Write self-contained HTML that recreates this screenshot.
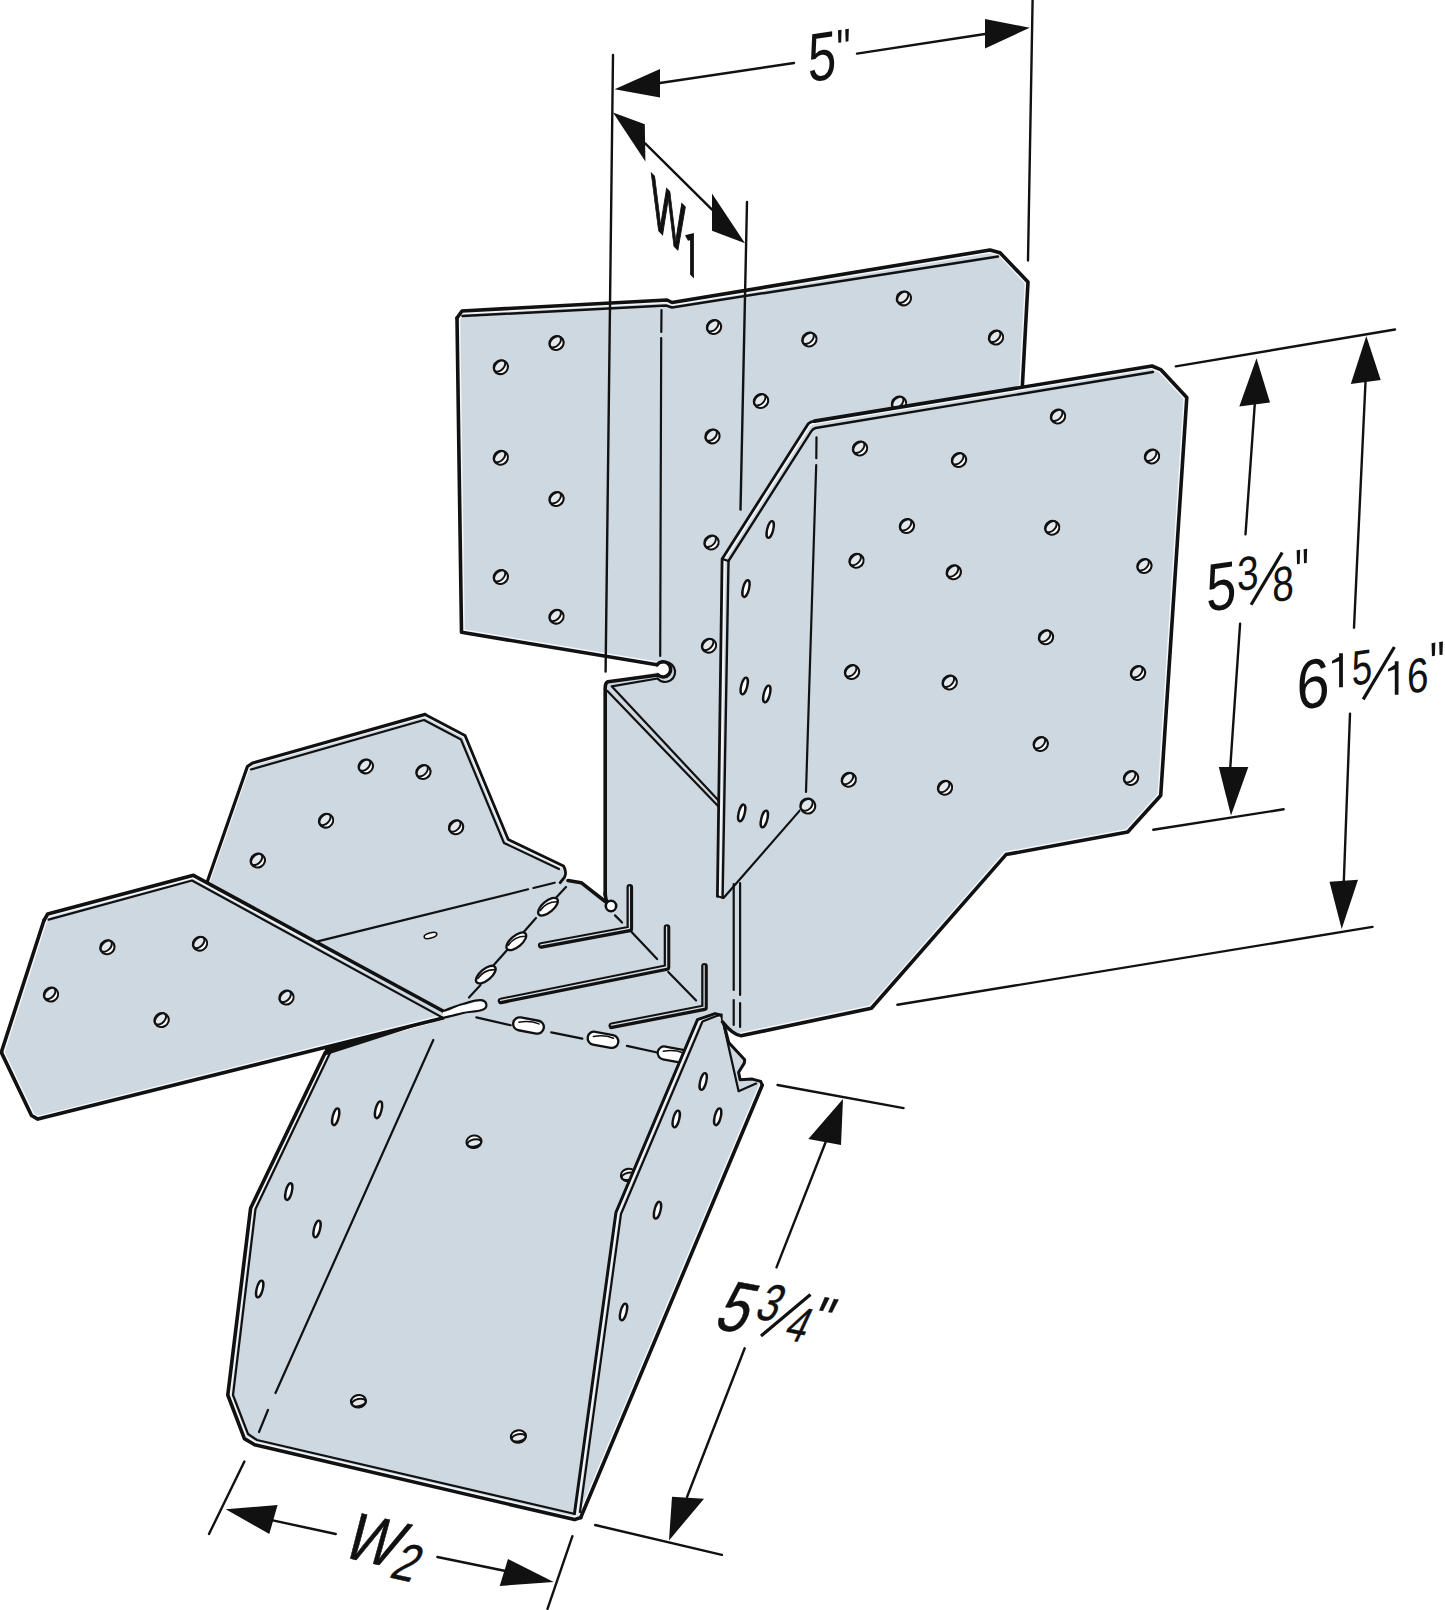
<!DOCTYPE html><html><head><meta charset="utf-8"><style>html,body{margin:0;padding:0;background:#fff;width:1445px;height:1610px;overflow:hidden}svg{display:block}</style></head><body>
<svg width="1445" height="1610" viewBox="0 0 1445 1610" stroke-linejoin="round" stroke-linecap="round">
<clipPath id="c1"><path d="M457,316 L462,311 L667,300 L672,302 L990,250 L1000,253 L1028,282 L1021,400 L1021,760 L740,1034 L605,1000 L605,686 L610,681 L656,672.6 L665,670 L656,666 L461.5,632.3 Z"/></clipPath>
<path d="M457,316 L462,311 L667,300 L672,302 L990,250 L1000,253 L1028,282 L1021,400 L1021,760 L740,1034 L605,1000 L605,686 L610,681 L656,672.6 L665,670 L656,666 L461.5,632.3 Z" fill="#ced8e1" stroke="none"/>
<path d="M457,318 L462,311 L667,300 L672,302.5 L990,250 L1000,252.7 L1028,282 L1021.6,400 M457,318 L461.5,632.3 L657,664.8" fill="none" stroke="#f4f7fa" stroke-width="6.6" clip-path="url(#c1)"/>
<path d="M457,318 L462,311 L667,300 L672,302.5 L990,250 L1000,252.7 L1028,282 L1021.6,400" fill="none" stroke="#111" stroke-width="3.6" />
<path d="M462.5,316 L666,305.5 L672,307.5 L998,256.5" fill="none" stroke="#111" stroke-width="2.5" />
<path d="M457,318 L461.5,632.3 L657,664.8" fill="none" stroke="#111" stroke-width="3.6" />
<path d="M657,664.8 A7.6,7.6 0 1 1 658,675 Z" fill="#fff"/>
<path d="M657,664.8 A7.6,7.6 0 1 1 658,675" fill="none" stroke="#111" stroke-width="3.6" />
<path d="M658,675 L608,681.8 Q604.8,683 605.2,690 L605.2,895" fill="none" stroke="#111" stroke-width="3.6" />
<path d="M662,662.5 A10,10 0 1 1 657.5,678.5" fill="none" stroke="#111" stroke-width="2.2" />
<path d="M657.5,678.5 L611.7,686.3 L719,801" fill="none" stroke="#111" stroke-width="2.2" />
<path d="M607.2,690.8 L719,807" fill="none" stroke="#111" stroke-width="2.2" />
<path d="M661.5,310 L661.3,332 M661.2,338 L660.2,656" fill="none" stroke="#111" stroke-width="2.2" />
<g transform="translate(500.8,367.2) rotate(-30)"><ellipse rx="8.6" ry="8.1" fill="#e4eaf0"/><ellipse rx="7.3" ry="6.8" fill="#fff" stroke="#111" stroke-width="2.1"/></g><g transform="translate(500.8,367.2) rotate(-45)"><ellipse cx="0" cy="-1.6" rx="6.7" ry="4.199999999999999" fill="#e3e8ed" stroke="#111" stroke-width="2.0"/></g>
<g transform="translate(556.5,343) rotate(-30)"><ellipse rx="8.6" ry="8.1" fill="#e4eaf0"/><ellipse rx="7.3" ry="6.8" fill="#fff" stroke="#111" stroke-width="2.1"/></g><g transform="translate(556.5,343) rotate(-45)"><ellipse cx="0" cy="-1.6" rx="6.7" ry="4.199999999999999" fill="#e3e8ed" stroke="#111" stroke-width="2.0"/></g>
<g transform="translate(500.8,457.8) rotate(-30)"><ellipse rx="8.6" ry="8.1" fill="#e4eaf0"/><ellipse rx="7.3" ry="6.8" fill="#fff" stroke="#111" stroke-width="2.1"/></g><g transform="translate(500.8,457.8) rotate(-45)"><ellipse cx="0" cy="-1.6" rx="6.7" ry="4.199999999999999" fill="#e3e8ed" stroke="#111" stroke-width="2.0"/></g>
<g transform="translate(556.5,499) rotate(-30)"><ellipse rx="8.6" ry="8.1" fill="#e4eaf0"/><ellipse rx="7.3" ry="6.8" fill="#fff" stroke="#111" stroke-width="2.1"/></g><g transform="translate(556.5,499) rotate(-45)"><ellipse cx="0" cy="-1.6" rx="6.7" ry="4.199999999999999" fill="#e3e8ed" stroke="#111" stroke-width="2.0"/></g>
<g transform="translate(500.8,577) rotate(-30)"><ellipse rx="8.6" ry="8.1" fill="#e4eaf0"/><ellipse rx="7.3" ry="6.8" fill="#fff" stroke="#111" stroke-width="2.1"/></g><g transform="translate(500.8,577) rotate(-45)"><ellipse cx="0" cy="-1.6" rx="6.7" ry="4.199999999999999" fill="#e3e8ed" stroke="#111" stroke-width="2.0"/></g>
<g transform="translate(556.5,616.7) rotate(-30)"><ellipse rx="8.6" ry="8.1" fill="#e4eaf0"/><ellipse rx="7.3" ry="6.8" fill="#fff" stroke="#111" stroke-width="2.1"/></g><g transform="translate(556.5,616.7) rotate(-45)"><ellipse cx="0" cy="-1.6" rx="6.7" ry="4.199999999999999" fill="#e3e8ed" stroke="#111" stroke-width="2.0"/></g>
<g transform="translate(714,327) rotate(-30)"><ellipse rx="8.6" ry="8.1" fill="#e4eaf0"/><ellipse rx="7.3" ry="6.8" fill="#fff" stroke="#111" stroke-width="2.1"/></g><g transform="translate(714,327) rotate(-45)"><ellipse cx="0" cy="-1.6" rx="6.7" ry="4.199999999999999" fill="#e3e8ed" stroke="#111" stroke-width="2.0"/></g>
<g transform="translate(809.4,339.5) rotate(-30)"><ellipse rx="8.6" ry="8.1" fill="#e4eaf0"/><ellipse rx="7.3" ry="6.8" fill="#fff" stroke="#111" stroke-width="2.1"/></g><g transform="translate(809.4,339.5) rotate(-45)"><ellipse cx="0" cy="-1.6" rx="6.7" ry="4.199999999999999" fill="#e3e8ed" stroke="#111" stroke-width="2.0"/></g>
<g transform="translate(903.9,298.4) rotate(-30)"><ellipse rx="8.6" ry="8.1" fill="#e4eaf0"/><ellipse rx="7.3" ry="6.8" fill="#fff" stroke="#111" stroke-width="2.1"/></g><g transform="translate(903.9,298.4) rotate(-45)"><ellipse cx="0" cy="-1.6" rx="6.7" ry="4.199999999999999" fill="#e3e8ed" stroke="#111" stroke-width="2.0"/></g>
<g transform="translate(996,337.6) rotate(-30)"><ellipse rx="8.6" ry="8.1" fill="#e4eaf0"/><ellipse rx="7.3" ry="6.8" fill="#fff" stroke="#111" stroke-width="2.1"/></g><g transform="translate(996,337.6) rotate(-45)"><ellipse cx="0" cy="-1.6" rx="6.7" ry="4.199999999999999" fill="#e3e8ed" stroke="#111" stroke-width="2.0"/></g>
<g transform="translate(761,401) rotate(-30)"><ellipse rx="8.6" ry="8.1" fill="#e4eaf0"/><ellipse rx="7.3" ry="6.8" fill="#fff" stroke="#111" stroke-width="2.1"/></g><g transform="translate(761,401) rotate(-45)"><ellipse cx="0" cy="-1.6" rx="6.7" ry="4.199999999999999" fill="#e3e8ed" stroke="#111" stroke-width="2.0"/></g>
<g transform="translate(899,403.5) rotate(-30)"><ellipse rx="8.6" ry="8.1" fill="#e4eaf0"/><ellipse rx="7.3" ry="6.8" fill="#fff" stroke="#111" stroke-width="2.1"/></g><g transform="translate(899,403.5) rotate(-45)"><ellipse cx="0" cy="-1.6" rx="6.7" ry="4.199999999999999" fill="#e3e8ed" stroke="#111" stroke-width="2.0"/></g>
<g transform="translate(712.5,436.4) rotate(-30)"><ellipse rx="8.6" ry="8.1" fill="#e4eaf0"/><ellipse rx="7.3" ry="6.8" fill="#fff" stroke="#111" stroke-width="2.1"/></g><g transform="translate(712.5,436.4) rotate(-45)"><ellipse cx="0" cy="-1.6" rx="6.7" ry="4.199999999999999" fill="#e3e8ed" stroke="#111" stroke-width="2.0"/></g>
<g transform="translate(711.5,542.5) rotate(-30)"><ellipse rx="8.6" ry="8.1" fill="#e4eaf0"/><ellipse rx="7.3" ry="6.8" fill="#fff" stroke="#111" stroke-width="2.1"/></g><g transform="translate(711.5,542.5) rotate(-45)"><ellipse cx="0" cy="-1.6" rx="6.7" ry="4.199999999999999" fill="#e3e8ed" stroke="#111" stroke-width="2.0"/></g>
<g transform="translate(709,645.7) rotate(-30)"><ellipse rx="8.6" ry="8.1" fill="#e4eaf0"/><ellipse rx="7.3" ry="6.8" fill="#fff" stroke="#111" stroke-width="2.1"/></g><g transform="translate(709,645.7) rotate(-45)"><ellipse cx="0" cy="-1.6" rx="6.7" ry="4.199999999999999" fill="#e3e8ed" stroke="#111" stroke-width="2.0"/></g>
<clipPath id="c2"><path d="M207.6,880.7 L247.4,766.5 L252.6,763 L425.1,714.4 L465,735.4 L508.2,839.5 L563.5,866 L564.6,877.2 L568,880.5 L581.2,882.7 L605.6,904.8 L612,906 L740,1000 L735,1022 L721,1015 L700,1062 L474,1030 L443,1030 L193,876 Z"/></clipPath>
<path d="M207.6,880.7 L247.4,766.5 L252.6,763 L425.1,714.4 L465,735.4 L508.2,839.5 L563.5,866 L564.6,877.2 L568,880.5 L581.2,882.7 L605.6,904.8 L612,906 L740,1000 L735,1022 L721,1015 L700,1062 L474,1030 L443,1030 L193,876 Z" fill="#ced8e1" stroke="none"/>
<path d="M207,882.5 L247.4,766.5 L252.6,763 L425.1,714.4 L465,735.4 L508.2,839.5 L563.5,866" fill="none" stroke="#f4f7fa" stroke-width="5.4" clip-path="url(#c2)"/>
<path d="M207,882.5 L247.4,766.5 L252.6,763 L425.1,714.4" fill="none" stroke="#111" stroke-width="3.2" />
<path d="M425.1,714.4 L465,735.4 L508.2,839.5 L563.5,866 Q567,872 564.6,877.2 L560.2,882.7" fill="none" stroke="#111" stroke-width="2.8" />
<path d="M251,769.5 L424,720 L461,739.5 L504,843 L559,869" fill="none" stroke="#111" stroke-width="2.2" />
<path d="M568,880.5 L581.2,882.7 L606.5,902.5" fill="none" stroke="#111" stroke-width="3.6" />
<circle cx="611" cy="906" r="5.2" fill="#fff" stroke="#111" stroke-width="2.6"/>
<path d="M605.2,893 Q605.5,899 607,901.5" fill="none" stroke="#111" stroke-width="3.6" />
<path d="M317.7,941.4 L528.1,889.3 M533.5,888 L554.7,882.7" fill="none" stroke="#111" stroke-width="2.2" />
<path d="M566,887 L552,902 M536,918 L522,934 M508,949 L492,967 M480.5,985 L469,997.4" fill="none" stroke="#111" stroke-width="2.2" />
<ellipse cx="548" cy="906.7" rx="12" ry="5.6" transform="rotate(-40 548 906.7)" fill="#fff" stroke="#111" stroke-width="2.3"/>
<path d="M540,910.7 Q546,901.7 557,901.7" fill="none" stroke="#111" stroke-width="1.6"/>
<ellipse cx="516.3" cy="941.3" rx="12" ry="5.6" transform="rotate(-40 516.3 941.3)" fill="#fff" stroke="#111" stroke-width="2.3"/>
<path d="M508.29999999999995,945.3 Q514.3,936.3 525.3,936.3" fill="none" stroke="#111" stroke-width="1.6"/>
<ellipse cx="485.8" cy="974.6" rx="12" ry="5.6" transform="rotate(-40 485.8 974.6)" fill="#fff" stroke="#111" stroke-width="2.3"/>
<path d="M477.8,978.6 Q483.8,969.6 494.8,969.6" fill="none" stroke="#111" stroke-width="1.6"/>
<ellipse cx="430.5" cy="935.5" rx="6.5" ry="2.6" transform="rotate(-15 430.5 935.5)" fill="#fff" stroke="#111" stroke-width="1.6"/>
<path d="M615,915.4 L622.1,922.5 M631.6,932 L657.1,959.1 M668.3,971.9 L696.1,1000.5" fill="none" stroke="#111" stroke-width="2.2" />
<path d="M629.8,887.4 L629.8,928.9 L541.2,945.5" fill="none" stroke="#111" stroke-width="6.6"/>
<path d="M629.8,887.4 L629.8,928.9 L541.2,945.5" fill="none" stroke="#d6dde4" stroke-width="1.3" transform="translate(-0.4,-0.6)"/>
<path d="M667,927.5 L667,967.6 L501,1000.9" fill="none" stroke="#111" stroke-width="6.6"/>
<path d="M667,927.5 L667,967.6 L501,1000.9" fill="none" stroke="#d6dde4" stroke-width="1.3" transform="translate(-0.4,-0.6)"/>
<path d="M704.5,966.3 L704.5,1007.8 L611.8,1025.8" fill="none" stroke="#111" stroke-width="6.6"/>
<path d="M704.5,966.3 L704.5,1007.8 L611.8,1025.8" fill="none" stroke="#d6dde4" stroke-width="1.3" transform="translate(-0.4,-0.6)"/>
<g transform="translate(365.8,766.4) rotate(-30)"><ellipse rx="8.6" ry="8.1" fill="#e4eaf0"/><ellipse rx="7.3" ry="6.8" fill="#fff" stroke="#111" stroke-width="2.1"/></g><g transform="translate(365.8,766.4) rotate(-45)"><ellipse cx="0" cy="-1.6" rx="6.7" ry="4.199999999999999" fill="#e3e8ed" stroke="#111" stroke-width="2.0"/></g>
<g transform="translate(423.4,772) rotate(-30)"><ellipse rx="8.6" ry="8.1" fill="#e4eaf0"/><ellipse rx="7.3" ry="6.8" fill="#fff" stroke="#111" stroke-width="2.1"/></g><g transform="translate(423.4,772) rotate(-45)"><ellipse cx="0" cy="-1.6" rx="6.7" ry="4.199999999999999" fill="#e3e8ed" stroke="#111" stroke-width="2.0"/></g>
<g transform="translate(326.1,820.7) rotate(-30)"><ellipse rx="8.6" ry="8.1" fill="#e4eaf0"/><ellipse rx="7.3" ry="6.8" fill="#fff" stroke="#111" stroke-width="2.1"/></g><g transform="translate(326.1,820.7) rotate(-45)"><ellipse cx="0" cy="-1.6" rx="6.7" ry="4.199999999999999" fill="#e3e8ed" stroke="#111" stroke-width="2.0"/></g>
<g transform="translate(456.1,827.3) rotate(-30)"><ellipse rx="8.6" ry="8.1" fill="#e4eaf0"/><ellipse rx="7.3" ry="6.8" fill="#fff" stroke="#111" stroke-width="2.1"/></g><g transform="translate(456.1,827.3) rotate(-45)"><ellipse cx="0" cy="-1.6" rx="6.7" ry="4.199999999999999" fill="#e3e8ed" stroke="#111" stroke-width="2.0"/></g>
<g transform="translate(257.8,860.6) rotate(-30)"><ellipse rx="8.6" ry="8.1" fill="#e4eaf0"/><ellipse rx="7.3" ry="6.8" fill="#fff" stroke="#111" stroke-width="2.1"/></g><g transform="translate(257.8,860.6) rotate(-45)"><ellipse cx="0" cy="-1.6" rx="6.7" ry="4.199999999999999" fill="#e3e8ed" stroke="#111" stroke-width="2.0"/></g>
<clipPath id="c3"><path d="M47.7,914 L193.4,875.3 L443,1016 L440,1019.5 L37.8,1119.1 L31.5,1115.5 L1.8,1053.4 L1.8,1050.7 L44,920.3 Z"/></clipPath>
<path d="M47.7,914 L193.4,875.3 L443,1016 L440,1019.5 L37.8,1119.1 L31.5,1115.5 L1.8,1053.4 L1.8,1050.7 L44,920.3 Z" fill="#ced8e1" stroke="none"/>
<path d="M44,920.3 L47.7,914 L193.4,875.3 L443,1011 M443,1018 L37.8,1119.1 L31.5,1115.5 L1.8,1053.4 L1.8,1050.7 L44,920.3" fill="none" stroke="#f4f7fa" stroke-width="6.6" clip-path="url(#c3)"/>
<path d="M44,920.3 L47.7,914 L193.4,875.3 L443,1011" fill="none" stroke="#111" stroke-width="3.6" />
<path d="M48.6,919.6 L192,880.5 L442.3,1017.4" fill="none" stroke="#111" stroke-width="2.2" />
<path d="M443,1018 L37.8,1119.1 L31.5,1115.5 L1.8,1053.4 L1.8,1050.7 L44,920.3" fill="none" stroke="#111" stroke-width="3.6" />
<g transform="translate(107.4,947.3) rotate(-30)"><ellipse rx="8.6" ry="8.1" fill="#e4eaf0"/><ellipse rx="7.3" ry="6.8" fill="#fff" stroke="#111" stroke-width="2.1"/></g><g transform="translate(107.4,947.3) rotate(-45)"><ellipse cx="0" cy="-1.6" rx="6.7" ry="4.199999999999999" fill="#e3e8ed" stroke="#111" stroke-width="2.0"/></g>
<g transform="translate(200,943.7) rotate(-30)"><ellipse rx="8.6" ry="8.1" fill="#e4eaf0"/><ellipse rx="7.3" ry="6.8" fill="#fff" stroke="#111" stroke-width="2.1"/></g><g transform="translate(200,943.7) rotate(-45)"><ellipse cx="0" cy="-1.6" rx="6.7" ry="4.199999999999999" fill="#e3e8ed" stroke="#111" stroke-width="2.0"/></g>
<g transform="translate(51,994.6) rotate(-30)"><ellipse rx="8.6" ry="8.1" fill="#e4eaf0"/><ellipse rx="7.3" ry="6.8" fill="#fff" stroke="#111" stroke-width="2.1"/></g><g transform="translate(51,994.6) rotate(-45)"><ellipse cx="0" cy="-1.6" rx="6.7" ry="4.199999999999999" fill="#e3e8ed" stroke="#111" stroke-width="2.0"/></g>
<g transform="translate(161.6,1020.1) rotate(-30)"><ellipse rx="8.6" ry="8.1" fill="#e4eaf0"/><ellipse rx="7.3" ry="6.8" fill="#fff" stroke="#111" stroke-width="2.1"/></g><g transform="translate(161.6,1020.1) rotate(-45)"><ellipse cx="0" cy="-1.6" rx="6.7" ry="4.199999999999999" fill="#e3e8ed" stroke="#111" stroke-width="2.0"/></g>
<g transform="translate(286.5,997.6) rotate(-30)"><ellipse rx="8.6" ry="8.1" fill="#e4eaf0"/><ellipse rx="7.3" ry="6.8" fill="#fff" stroke="#111" stroke-width="2.1"/></g><g transform="translate(286.5,997.6) rotate(-45)"><ellipse cx="0" cy="-1.6" rx="6.7" ry="4.199999999999999" fill="#e3e8ed" stroke="#111" stroke-width="2.0"/></g>
<clipPath id="c4"><path d="M325.3,1052.5 L443,1020 L474,1017.5 L682,1053.5 L697.5,1019.7 L721.5,1015.1 L738.6,1091.2 L762,1085 L580.7,1517.5 L574.5,1519.6 L254.7,1444.8 L244.4,1438.6 L227.8,1395 L250.6,1208.2 Z"/></clipPath>
<path d="M325.3,1052.5 L443,1020 L474,1017.5 L682,1053.5 L697.5,1019.7 L721.5,1015.1 L738.6,1091.2 L762,1085 L580.7,1517.5 L574.5,1519.6 L254.7,1444.8 L244.4,1438.6 L227.8,1395 L250.6,1208.2 Z" fill="#ced8e1" stroke="none"/>
<path d="M325.3,1052.5 L250.6,1208.2 L227.8,1395 L244.4,1438.6 L254.7,1444.8 L574.5,1519.6 L580.7,1517.5" fill="none" stroke="#f4f7fa" stroke-width="6.6" clip-path="url(#c4)"/>
<path d="M325.3,1052.5 L250.6,1208.2 L227.8,1395 L244.4,1438.6 L254.7,1444.8 L574.5,1519.6 L580.7,1517.5" fill="none" stroke="#111" stroke-width="3.6" />
<path d="M330,1053 L255.5,1209 L233,1395 L248,1434 L257,1440 L575,1514" fill="none" stroke="#111" stroke-width="2.2" />
<path d="M325,1048 L443,1017.6 L325,1055.5 Z" fill="#111"/>
<path d="M443,1011 C449,1009.5 456,1005.5 463,1004 C470,1002.2 476,999.6 481,1000.2 C487.5,1001 488.5,1008 482,1010 C476,1011.8 469,1011.6 463,1013 C455,1015 448,1017 443,1017.8" fill="#fff" stroke="#111" stroke-width="2.2"/>
<path d="M433.3,1040 L275.5,1393 M268,1410 L259,1432" fill="none" stroke="#111" stroke-width="2.2" />
<path d="M476.3,1017.4 L510.7,1025.2 M551.3,1032.3 L582.3,1038.7 M626.9,1045.9 L659.5,1053" fill="none" stroke="#111" stroke-width="2.2" />
<rect x="513.0" y="1019.0" width="31" height="13" rx="6.5" transform="rotate(10.5 528.5 1025.5)" fill="#fff" stroke="#111" stroke-width="2.3"/>
<path d="M518.5,1024.0 Q528.5,1020.0 538.5,1022.0" transform="rotate(10.5 528.5 1025.5)" fill="none" stroke="#111" stroke-width="1.6"/>
<rect x="587.5" y="1033.3" width="31" height="13" rx="6.5" transform="rotate(10.5 603 1039.8)" fill="#fff" stroke="#111" stroke-width="2.3"/>
<path d="M593,1038.3 Q603,1034.3 613,1036.3" transform="rotate(10.5 603 1039.8)" fill="none" stroke="#111" stroke-width="1.6"/>
<rect x="657.5" y="1048.1" width="31" height="13" rx="6.5" transform="rotate(10.5 673 1054.6)" fill="#fff" stroke="#111" stroke-width="2.3"/>
<path d="M663,1053.1 Q673,1049.1 683,1051.1" transform="rotate(10.5 673 1054.6)" fill="none" stroke="#111" stroke-width="1.6"/>
<g transform="translate(474,1141.7) rotate(-8)"><ellipse rx="8.9" ry="7.5" fill="#e4eaf0"/><ellipse rx="7.6" ry="6.2" fill="#fff" stroke="#111" stroke-width="2.1"/></g><g transform="translate(474,1141.7) rotate(-12)"><ellipse cx="0" cy="1.3" rx="7.0" ry="3.6" fill="#e3e8ed" stroke="#111" stroke-width="2.0"/></g>
<g transform="translate(358.5,1401.3) rotate(-8)"><ellipse rx="8.9" ry="7.5" fill="#e4eaf0"/><ellipse rx="7.6" ry="6.2" fill="#fff" stroke="#111" stroke-width="2.1"/></g><g transform="translate(358.5,1401.3) rotate(-12)"><ellipse cx="0" cy="1.3" rx="7.0" ry="3.6" fill="#e3e8ed" stroke="#111" stroke-width="2.0"/></g>
<g transform="translate(518.4,1436.5) rotate(-8)"><ellipse rx="8.9" ry="7.5" fill="#e4eaf0"/><ellipse rx="7.6" ry="6.2" fill="#fff" stroke="#111" stroke-width="2.1"/></g><g transform="translate(518.4,1436.5) rotate(-12)"><ellipse cx="0" cy="1.3" rx="7.0" ry="3.6" fill="#e3e8ed" stroke="#111" stroke-width="2.0"/></g>
<g transform="translate(628.4,1175) rotate(-8)"><ellipse rx="8.9" ry="7.5" fill="#e4eaf0"/><ellipse rx="7.6" ry="6.2" fill="#fff" stroke="#111" stroke-width="2.1"/></g><g transform="translate(628.4,1175) rotate(-12)"><ellipse cx="0" cy="1.3" rx="7.0" ry="3.6" fill="#e3e8ed" stroke="#111" stroke-width="2.0"/></g>
<ellipse cx="335.7" cy="1116.8" rx="4.0" ry="9.6" transform="rotate(14 335.7 1116.8)" fill="#e4eaf0"/>
<ellipse cx="335.7" cy="1116.8" rx="3.0" ry="8.6" transform="rotate(14 335.7 1116.8)" fill="#fff" stroke="#111" stroke-width="2.4"/>
<ellipse cx="378.5" cy="1109.8" rx="4.0" ry="9.6" transform="rotate(14 378.5 1109.8)" fill="#e4eaf0"/>
<ellipse cx="378.5" cy="1109.8" rx="3.0" ry="8.6" transform="rotate(14 378.5 1109.8)" fill="#fff" stroke="#111" stroke-width="2.4"/>
<ellipse cx="288.8" cy="1191.6" rx="4.0" ry="9.6" transform="rotate(14 288.8 1191.6)" fill="#e4eaf0"/>
<ellipse cx="288.8" cy="1191.6" rx="3.0" ry="8.6" transform="rotate(14 288.8 1191.6)" fill="#fff" stroke="#111" stroke-width="2.4"/>
<ellipse cx="317" cy="1229" rx="4.0" ry="9.6" transform="rotate(14 317 1229)" fill="#e4eaf0"/>
<ellipse cx="317" cy="1229" rx="3.0" ry="8.6" transform="rotate(14 317 1229)" fill="#fff" stroke="#111" stroke-width="2.4"/>
<ellipse cx="259.7" cy="1289" rx="4.0" ry="9.6" transform="rotate(14 259.7 1289)" fill="#e4eaf0"/>
<ellipse cx="259.7" cy="1289" rx="3.0" ry="8.6" transform="rotate(14 259.7 1289)" fill="#fff" stroke="#111" stroke-width="2.4"/>
<clipPath id="c5"><path d="M697.5,1019.7 L715,1013.6 L721.5,1015.1 L728.7,1042.5 L744.7,1059.7 L744.3,1063.1 L738.6,1072.2 L740.1,1079.8 L752.3,1079.1 L760.7,1081.4 L762.2,1085.2 L580.7,1517.5 L574.5,1513.4 L616,1212.3 Z"/></clipPath>
<path d="M697.5,1019.7 L715,1013.6 L721.5,1015.1 L728.7,1042.5 L744.7,1059.7 L744.3,1063.1 L738.6,1072.2 L740.1,1079.8 L752.3,1079.1 L760.7,1081.4 L762.2,1085.2 L580.7,1517.5 L574.5,1513.4 L616,1212.3 Z" fill="#ced8e1" stroke="none"/>
<path d="M574.5,1513.4 L616,1212.3 L697.5,1019.7 L715,1013.6 L721.5,1015.1 M762.2,1085.2 L580.7,1517.5" fill="none" stroke="#f4f7fa" stroke-width="6.6" clip-path="url(#c5)"/>
<path d="M574.5,1513.4 L616,1212.3 L697.5,1019.7 L715,1013.6 L721.5,1015.1" fill="none" stroke="#111" stroke-width="3.0" />
<path d="M762.2,1085.2 L580.7,1517.5" fill="none" stroke="#111" stroke-width="3.6" />
<path d="M580,1512 L621,1214 L702.5,1021.5 L716.5,1015.9 L721.5,1015.1" fill="none" stroke="#111" stroke-width="2.2" />
<path d="M721.5,1015.1 L728.7,1042.5 L744.7,1059.7 L744.3,1063.1 L738.6,1072.2 L740.1,1079.8 L752.3,1079.1 L760.7,1081.4 L762.2,1085.2" fill="none" stroke="#111" stroke-width="3.0" />
<path d="M721.5,1015.1 L738.6,1091.2 L756.1,1083.6" fill="none" stroke="#111" stroke-width="2.2" />
<ellipse cx="703.2" cy="1081.5" rx="4.0" ry="9.6" transform="rotate(14 703.2 1081.5)" fill="#e4eaf0"/>
<ellipse cx="703.2" cy="1081.5" rx="3.0" ry="8.6" transform="rotate(14 703.2 1081.5)" fill="#fff" stroke="#111" stroke-width="2.4"/>
<ellipse cx="676.2" cy="1119" rx="4.0" ry="9.6" transform="rotate(14 676.2 1119)" fill="#e4eaf0"/>
<ellipse cx="676.2" cy="1119" rx="3.0" ry="8.6" transform="rotate(14 676.2 1119)" fill="#fff" stroke="#111" stroke-width="2.4"/>
<ellipse cx="717.7" cy="1116.8" rx="4.0" ry="9.6" transform="rotate(14 717.7 1116.8)" fill="#e4eaf0"/>
<ellipse cx="717.7" cy="1116.8" rx="3.0" ry="8.6" transform="rotate(14 717.7 1116.8)" fill="#fff" stroke="#111" stroke-width="2.4"/>
<ellipse cx="657.5" cy="1210.2" rx="4.0" ry="9.6" transform="rotate(14 657.5 1210.2)" fill="#e4eaf0"/>
<ellipse cx="657.5" cy="1210.2" rx="3.0" ry="8.6" transform="rotate(14 657.5 1210.2)" fill="#fff" stroke="#111" stroke-width="2.4"/>
<ellipse cx="623.5" cy="1312" rx="4.0" ry="9.6" transform="rotate(14 623.5 1312)" fill="#e4eaf0"/>
<ellipse cx="623.5" cy="1312" rx="3.0" ry="8.6" transform="rotate(14 623.5 1312)" fill="#fff" stroke="#111" stroke-width="2.4"/>
<clipPath id="c6"><path d="M717.4,896.3 L722.6,559 L809.5,423.5 L814.7,421.7 L1152,366 L1160.7,369.6 L1186.8,397.4 L1160.7,795.5 L1127.7,832 L1006,854.6 L871.4,1008.3 L741,1035.7 L733,1034 L722.6,1022 L724,898 Z"/></clipPath>
<path d="M717.4,896.3 L722.6,559 L809.5,423.5 L814.7,421.7 L1152,366 L1160.7,369.6 L1186.8,397.4 L1160.7,795.5 L1127.7,832 L1006,854.6 L871.4,1008.3 L741,1035.7 L733,1034 L722.6,1022 L724,898 Z" fill="#ced8e1" stroke="none"/>
<path d="M717.4,896.3 L722.1,558.9 L808.2,423.7 Q810.5,421.6 814.5,421.1 L1152,366 L1160.7,369.6 L1186.8,397.4 L1160.7,795.5 L1127.7,832 L1006,854.6 L871.4,1008.3 L741,1035.7" fill="none" stroke="#f4f7fa" stroke-width="6.6" clip-path="url(#c6)"/>
<path d="M717.4,896.3 L722.1,558.9 L808.2,423.7 Q810.5,421.6 814.5,421.1" fill="none" stroke="#111" stroke-width="2.8" />
<path d="M814.5,421.1 L1152,366 L1160.7,369.6 L1186.8,397.4 L1160.7,795.5 L1127.7,832 L1006,854.6 L871.4,1008.3 L741,1035.7 Q733,1035 722.6,1022" fill="none" stroke="#111" stroke-width="3.6" />
<path d="M722.6,897.6 L728.5,561 L811.4,431.1 Q813,428.6 815.6,428 L1153,372" fill="none" stroke="#111" stroke-width="2.4" />
<path d="M722.1,558.9 L728.5,561" fill="none" stroke="#111" stroke-width="2.2" />
<path d="M717.4,896.3 L723.5,898 L800.8,809.4" fill="none" stroke="#111" stroke-width="2.2" />
<path d="M816.5,437.4 L816.3,458.2 M816.2,465.2 L806,792" fill="none" stroke="#111" stroke-width="2.2" />
<path d="M733.7,884 L733.7,990 M733.7,1000 L733.7,1025" fill="none" stroke="#111" stroke-width="2.2" />
<path d="M740.1,883 L740.1,995 M740.1,1003 L740.1,1027" fill="none" stroke="#111" stroke-width="2.2" />
<g transform="translate(1058,416.5) rotate(-30)"><ellipse rx="8.6" ry="8.1" fill="#e4eaf0"/><ellipse rx="7.3" ry="6.8" fill="#fff" stroke="#111" stroke-width="2.1"/></g><g transform="translate(1058,416.5) rotate(-45)"><ellipse cx="0" cy="-1.6" rx="6.7" ry="4.199999999999999" fill="#e3e8ed" stroke="#111" stroke-width="2.0"/></g>
<g transform="translate(860,448.5) rotate(-30)"><ellipse rx="8.6" ry="8.1" fill="#e4eaf0"/><ellipse rx="7.3" ry="6.8" fill="#fff" stroke="#111" stroke-width="2.1"/></g><g transform="translate(860,448.5) rotate(-45)"><ellipse cx="0" cy="-1.6" rx="6.7" ry="4.199999999999999" fill="#e3e8ed" stroke="#111" stroke-width="2.0"/></g>
<g transform="translate(959,460) rotate(-30)"><ellipse rx="8.6" ry="8.1" fill="#e4eaf0"/><ellipse rx="7.3" ry="6.8" fill="#fff" stroke="#111" stroke-width="2.1"/></g><g transform="translate(959,460) rotate(-45)"><ellipse cx="0" cy="-1.6" rx="6.7" ry="4.199999999999999" fill="#e3e8ed" stroke="#111" stroke-width="2.0"/></g>
<g transform="translate(1152,456.5) rotate(-30)"><ellipse rx="8.6" ry="8.1" fill="#e4eaf0"/><ellipse rx="7.3" ry="6.8" fill="#fff" stroke="#111" stroke-width="2.1"/></g><g transform="translate(1152,456.5) rotate(-45)"><ellipse cx="0" cy="-1.6" rx="6.7" ry="4.199999999999999" fill="#e3e8ed" stroke="#111" stroke-width="2.0"/></g>
<g transform="translate(906.9,526) rotate(-30)"><ellipse rx="8.6" ry="8.1" fill="#e4eaf0"/><ellipse rx="7.3" ry="6.8" fill="#fff" stroke="#111" stroke-width="2.1"/></g><g transform="translate(906.9,526) rotate(-45)"><ellipse cx="0" cy="-1.6" rx="6.7" ry="4.199999999999999" fill="#e3e8ed" stroke="#111" stroke-width="2.0"/></g>
<g transform="translate(1052.2,527.8) rotate(-30)"><ellipse rx="8.6" ry="8.1" fill="#e4eaf0"/><ellipse rx="7.3" ry="6.8" fill="#fff" stroke="#111" stroke-width="2.1"/></g><g transform="translate(1052.2,527.8) rotate(-45)"><ellipse cx="0" cy="-1.6" rx="6.7" ry="4.199999999999999" fill="#e3e8ed" stroke="#111" stroke-width="2.0"/></g>
<g transform="translate(856.5,560.8) rotate(-30)"><ellipse rx="8.6" ry="8.1" fill="#e4eaf0"/><ellipse rx="7.3" ry="6.8" fill="#fff" stroke="#111" stroke-width="2.1"/></g><g transform="translate(856.5,560.8) rotate(-45)"><ellipse cx="0" cy="-1.6" rx="6.7" ry="4.199999999999999" fill="#e3e8ed" stroke="#111" stroke-width="2.0"/></g>
<g transform="translate(953.8,572.3) rotate(-30)"><ellipse rx="8.6" ry="8.1" fill="#e4eaf0"/><ellipse rx="7.3" ry="6.8" fill="#fff" stroke="#111" stroke-width="2.1"/></g><g transform="translate(953.8,572.3) rotate(-45)"><ellipse cx="0" cy="-1.6" rx="6.7" ry="4.199999999999999" fill="#e3e8ed" stroke="#111" stroke-width="2.0"/></g>
<g transform="translate(1144.4,566) rotate(-30)"><ellipse rx="8.6" ry="8.1" fill="#e4eaf0"/><ellipse rx="7.3" ry="6.8" fill="#fff" stroke="#111" stroke-width="2.1"/></g><g transform="translate(1144.4,566) rotate(-45)"><ellipse cx="0" cy="-1.6" rx="6.7" ry="4.199999999999999" fill="#e3e8ed" stroke="#111" stroke-width="2.0"/></g>
<g transform="translate(1046,637.3) rotate(-30)"><ellipse rx="8.6" ry="8.1" fill="#e4eaf0"/><ellipse rx="7.3" ry="6.8" fill="#fff" stroke="#111" stroke-width="2.1"/></g><g transform="translate(1046,637.3) rotate(-45)"><ellipse cx="0" cy="-1.6" rx="6.7" ry="4.199999999999999" fill="#e3e8ed" stroke="#111" stroke-width="2.0"/></g>
<g transform="translate(852,672) rotate(-30)"><ellipse rx="8.6" ry="8.1" fill="#e4eaf0"/><ellipse rx="7.3" ry="6.8" fill="#fff" stroke="#111" stroke-width="2.1"/></g><g transform="translate(852,672) rotate(-45)"><ellipse cx="0" cy="-1.6" rx="6.7" ry="4.199999999999999" fill="#e3e8ed" stroke="#111" stroke-width="2.0"/></g>
<g transform="translate(949.7,682.5) rotate(-30)"><ellipse rx="8.6" ry="8.1" fill="#e4eaf0"/><ellipse rx="7.3" ry="6.8" fill="#fff" stroke="#111" stroke-width="2.1"/></g><g transform="translate(949.7,682.5) rotate(-45)"><ellipse cx="0" cy="-1.6" rx="6.7" ry="4.199999999999999" fill="#e3e8ed" stroke="#111" stroke-width="2.0"/></g>
<g transform="translate(1138,673) rotate(-30)"><ellipse rx="8.6" ry="8.1" fill="#e4eaf0"/><ellipse rx="7.3" ry="6.8" fill="#fff" stroke="#111" stroke-width="2.1"/></g><g transform="translate(1138,673) rotate(-45)"><ellipse cx="0" cy="-1.6" rx="6.7" ry="4.199999999999999" fill="#e3e8ed" stroke="#111" stroke-width="2.0"/></g>
<g transform="translate(1040.7,744) rotate(-30)"><ellipse rx="8.6" ry="8.1" fill="#e4eaf0"/><ellipse rx="7.3" ry="6.8" fill="#fff" stroke="#111" stroke-width="2.1"/></g><g transform="translate(1040.7,744) rotate(-45)"><ellipse cx="0" cy="-1.6" rx="6.7" ry="4.199999999999999" fill="#e3e8ed" stroke="#111" stroke-width="2.0"/></g>
<g transform="translate(848.8,779.8) rotate(-30)"><ellipse rx="8.6" ry="8.1" fill="#e4eaf0"/><ellipse rx="7.3" ry="6.8" fill="#fff" stroke="#111" stroke-width="2.1"/></g><g transform="translate(848.8,779.8) rotate(-45)"><ellipse cx="0" cy="-1.6" rx="6.7" ry="4.199999999999999" fill="#e3e8ed" stroke="#111" stroke-width="2.0"/></g>
<g transform="translate(945,787.8) rotate(-30)"><ellipse rx="8.6" ry="8.1" fill="#e4eaf0"/><ellipse rx="7.3" ry="6.8" fill="#fff" stroke="#111" stroke-width="2.1"/></g><g transform="translate(945,787.8) rotate(-45)"><ellipse cx="0" cy="-1.6" rx="6.7" ry="4.199999999999999" fill="#e3e8ed" stroke="#111" stroke-width="2.0"/></g>
<g transform="translate(1131,778) rotate(-30)"><ellipse rx="8.6" ry="8.1" fill="#e4eaf0"/><ellipse rx="7.3" ry="6.8" fill="#fff" stroke="#111" stroke-width="2.1"/></g><g transform="translate(1131,778) rotate(-45)"><ellipse cx="0" cy="-1.6" rx="6.7" ry="4.199999999999999" fill="#e3e8ed" stroke="#111" stroke-width="2.0"/></g>
<g transform="translate(807.8,806) rotate(-30)"><ellipse rx="8.8" ry="8.8" fill="#e4eaf0"/><ellipse rx="7.5" ry="7.5" fill="#fff" stroke="#111" stroke-width="2.1"/></g><g transform="translate(807.8,806) rotate(-45)"><ellipse cx="0" cy="-1.6" rx="6.9" ry="4.9" fill="#e3e8ed" stroke="#111" stroke-width="2.0"/></g>
<ellipse cx="770.2" cy="529.5" rx="4.0" ry="9.6" transform="rotate(14 770.2 529.5)" fill="#e4eaf0"/>
<ellipse cx="770.2" cy="529.5" rx="3.0" ry="8.6" transform="rotate(14 770.2 529.5)" fill="#fff" stroke="#111" stroke-width="2.4"/>
<ellipse cx="746" cy="588.6" rx="4.0" ry="9.6" transform="rotate(14 746 588.6)" fill="#e4eaf0"/>
<ellipse cx="746" cy="588.6" rx="3.0" ry="8.6" transform="rotate(14 746 588.6)" fill="#fff" stroke="#111" stroke-width="2.4"/>
<ellipse cx="744.2" cy="686" rx="4.0" ry="9.6" transform="rotate(14 744.2 686)" fill="#e4eaf0"/>
<ellipse cx="744.2" cy="686" rx="3.0" ry="8.6" transform="rotate(14 744.2 686)" fill="#fff" stroke="#111" stroke-width="2.4"/>
<ellipse cx="766.8" cy="694" rx="4.0" ry="9.6" transform="rotate(14 766.8 694)" fill="#e4eaf0"/>
<ellipse cx="766.8" cy="694" rx="3.0" ry="8.6" transform="rotate(14 766.8 694)" fill="#fff" stroke="#111" stroke-width="2.4"/>
<ellipse cx="741.7" cy="812.9" rx="4.0" ry="9.6" transform="rotate(14 741.7 812.9)" fill="#e4eaf0"/>
<ellipse cx="741.7" cy="812.9" rx="3.0" ry="8.6" transform="rotate(14 741.7 812.9)" fill="#fff" stroke="#111" stroke-width="2.4"/>
<ellipse cx="764.3" cy="819" rx="4.0" ry="9.6" transform="rotate(14 764.3 819)" fill="#e4eaf0"/>
<ellipse cx="764.3" cy="819" rx="3.0" ry="8.6" transform="rotate(14 764.3 819)" fill="#fff" stroke="#111" stroke-width="2.4"/>
<path d="M613,55 L605.6,671.5" fill="none" stroke="#111" stroke-width="2.4" />
<path d="M1032.6,0 L1028,260.5" fill="none" stroke="#111" stroke-width="2.4" />
<path d="M660,83 L794,63 M857,53.6 L985,34" fill="none" stroke="#111" stroke-width="2.4" />
<path d="M614.6,89.3 L660,69 L660,97.6 Z" fill="#111"/>
<path d="M1029.8,27.7 L985,19 L985,48.4 Z" fill="#111"/>
<path d="M645.4,143.6 L712,209.6" fill="none" stroke="#111" stroke-width="2.4" />
<path d="M613,112.4 L644.8,124.3 L645.4,161.6 Z" fill="#111"/>
<path d="M745,243.2 L712,193.4 L712,230.8 Z" fill="#111"/>
<path d="M747,202 L740.5,509.6" fill="none" stroke="#111" stroke-width="2.4" />
<path d="M1175.8,366.4 L1395,329.5" fill="none" stroke="#111" stroke-width="2.4" />
<path d="M1153.3,829.8 L1283.6,809.3" fill="none" stroke="#111" stroke-width="2.4" />
<path d="M1256.5,358.2 L1239.3,406.5 L1270,402.4 Z" fill="#111"/>
<path d="M1254.9,402.4 L1245.5,534.4" fill="none" stroke="#111" stroke-width="2.4" />
<path d="M1240.1,623.7 L1230.3,767" fill="none" stroke="#111" stroke-width="2.4" />
<path d="M1218.8,767 L1248.3,767 L1231,815.5 Z" fill="#111"/>
<path d="M1366.3,336 L1350.8,384 L1380.7,380 Z" fill="#111"/>
<path d="M1365.5,382 L1354,627.8" fill="none" stroke="#111" stroke-width="2.4" />
<path d="M1350,713.8 L1343.8,881.8" fill="none" stroke="#111" stroke-width="2.4" />
<path d="M1329.5,881.8 L1358,879.8 L1341.7,929 Z" fill="#111"/>
<path d="M897.4,1004.8 L1372.5,926.9" fill="none" stroke="#111" stroke-width="2.4" />
<path d="M777.5,1085 L903.6,1108.1" fill="none" stroke="#111" stroke-width="2.4" />
<path d="M843,1098.9 L808.3,1139 L841,1145.1 Z" fill="#111"/>
<path d="M825.6,1142.2 L776.5,1267.4" fill="none" stroke="#111" stroke-width="2.4" />
<path d="M744.7,1348.3 L687,1497" fill="none" stroke="#111" stroke-width="2.4" />
<path d="M672,1496.7 L704,1498.8 L669,1540.4 Z" fill="#111"/>
<path d="M595.2,1525 L721.9,1554.9" fill="none" stroke="#111" stroke-width="2.4" />
<path d="M244.4,1461.5 L209,1534" fill="none" stroke="#111" stroke-width="2.4" />
<path d="M572.4,1536.2 L547.5,1608.9" fill="none" stroke="#111" stroke-width="2.4" />
<path d="M225.7,1509.2 L277.6,1505 L269.3,1534 Z" fill="#111"/>
<path d="M269.3,1519.6 L335.7,1534" fill="none" stroke="#111" stroke-width="2.4" />
<path d="M437.4,1557 L508,1571.5" fill="none" stroke="#111" stroke-width="2.4" />
<path d="M508,1559 L499.7,1586 L553.7,1581.9 Z" fill="#111"/>
<text transform="translate(810.00,34.20) skewY(-8) translate(-2.04,47.41) scale(0.7414,1)" font-family="Liberation Sans, sans-serif" font-size="68.71" fill="#111">5</text>
<text transform="translate(838.10,30.10) skewY(-8) translate(-1.82,40.12) scale(0.6945,1)" font-family="Liberation Sans, sans-serif" font-size="58.14" fill="#111">&quot;</text>
<text transform="translate(1208.30,564.50) skewY(-8) translate(-2.17,46.82) scale(0.8004,1)" font-family="Liberation Sans, sans-serif" font-size="67.86" fill="#111">5</text>
<text transform="translate(1238.60,557.50) skewY(-8) translate(-1.56,33.52) scale(0.8131,1)" font-family="Liberation Sans, sans-serif" font-size="47.89" fill="#111">3</text>
<path d="M1251.1,604.8 L1282.2,552.5" stroke="#111" stroke-width="3.2" stroke-linecap="butt"/>
<text transform="translate(1273.90,567.50) skewY(-8) translate(-1.75,34.41) scale(0.7921,1)" font-family="Liberation Sans, sans-serif" font-size="49.15" fill="#111">8</text>
<text transform="translate(1296.80,550.10) skewY(-8) translate(-1.75,44.93) scale(0.5969,1)" font-family="Liberation Sans, sans-serif" font-size="65.12" fill="#111">&quot;</text>
<text transform="translate(1299.40,660.90) skewY(-8) translate(-2.98,48.70) scale(0.8561,1)" font-family="Liberation Sans, sans-serif" font-size="69.58" fill="#111">6</text>
<path d="M1332,661.0999999999999 L1339.1,656.8 L1339.1,653.3 L1342.9,653.3 L1342.9,687.3 L1339.1,687.3 L1339.1,661.3 L1332,663.5 Z" fill="#111"/>
<text transform="translate(1353.20,651.60) skewY(-8) translate(-1.47,34.01) scale(0.7475,1)" font-family="Liberation Sans, sans-serif" font-size="49.29" fill="#111">5</text>
<path d="M1363.2,699.4 L1394.4,647" stroke="#111" stroke-width="3.2" stroke-linecap="butt"/>
<path d="M1388.1,669.0999999999999 L1394.8,664.7 L1394.8,661.2 L1398.5,661.2 L1398.5,694.8 L1394.8,694.8 L1394.8,669.2 L1388.1,671.5 Z" fill="#111"/>
<text transform="translate(1408.90,659.50) skewY(-8) translate(-1.93,34.01) scale(0.7963,1)" font-family="Liberation Sans, sans-serif" font-size="48.59" fill="#111">6</text>
<text transform="translate(1431.70,643.00) skewY(-8) translate(-1.90,41.72) scale(0.6990,1)" font-family="Liberation Sans, sans-serif" font-size="60.47" fill="#111">&quot;</text>
<g transform="translate(651,223) skewY(45)"><text transform="scale(0.5,1)" font-family="Liberation Sans, sans-serif" font-size="73" fill="#111" stroke="#111" stroke-width="1.6">W</text><path d="M35.5,-20.5 L41,-27.5 L41,12.5" fill="none" stroke="#111" stroke-width="3.8" stroke-linecap="butt" stroke-linejoin="miter"/></g>
<text transform="matrix(0.7278,0.1336,-0.4226,0.9063,712.00,1328.00)" font-family="Liberation Sans, sans-serif" font-size="75.00" fill="#111" stroke="#111" stroke-width="0.5">5</text>
<text transform="matrix(0.6885,0.1264,-0.4226,0.9063,753.00,1318.00)" font-family="Liberation Sans, sans-serif" font-size="55.00" fill="#111" stroke="#111" stroke-width="0.4">3</text>
<path d="M761,1336 L810.5,1294.5" stroke="#111" stroke-width="3.2" stroke-linecap="butt"/>
<text transform="matrix(0.6885,0.1264,-0.4226,0.9063,782.00,1339.00)" font-family="Liberation Sans, sans-serif" font-size="52.00" fill="#111" stroke="#111" stroke-width="0.4">4</text>
<text transform="matrix(0.7672,0.1408,-0.4226,0.9063,803.50,1338.00)" font-family="Liberation Sans, sans-serif" font-size="66.00" fill="#111" stroke="#111" stroke-width="0.4">&quot;</text>
<text transform="matrix(0.7807,0.1745,-0.4695,0.8829,339.00,1556.00)" font-family="Liberation Sans, sans-serif" font-size="70.00" fill="#111" stroke="#111" stroke-width="0.6">W</text>
<text transform="matrix(0.7612,0.1702,-0.4384,0.8988,388.00,1577.00)" font-family="Liberation Sans, sans-serif" font-size="55.00" fill="#111" stroke="#111" stroke-width="0.4">2</text>
</svg></body></html>
